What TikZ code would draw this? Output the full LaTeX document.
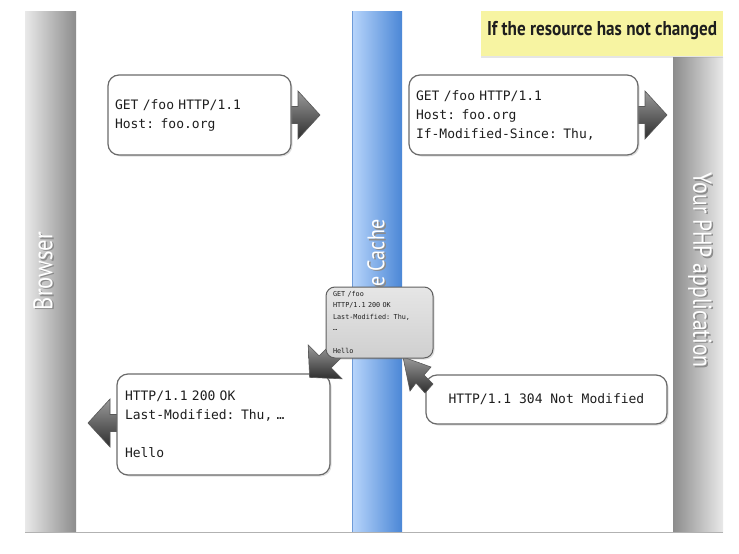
\documentclass[tikz,border=0pt]{standalone}
\usepackage{fontspec}
\usepackage{graphicx}
\usetikzlibrary{shadows}
\newfontfamily\monof[WordSpace={1,0,0}]{DejaVu Sans Mono}
\newfontfamily\labf{PT Sans}
\definecolor{brL}{HTML}{E9E9E9}
\definecolor{brD}{HTML}{8C8C8C}
\definecolor{cacheL}{HTML}{B8D5FB}
\definecolor{cacheD}{HTML}{4B87D6}
\definecolor{cacheE}{HTML}{6E9BD8}
\definecolor{noteY}{HTML}{F7F4A2}
\definecolor{boxE}{HTML}{6A6A6A}
\definecolor{txtC}{HTML}{1E1E1E}
\definecolor{arL}{HTML}{9A9A9A}
\definecolor{arD}{HTML}{2E2E2E}
\definecolor{sbTop}{HTML}{E6E6E6}
\definecolor{sbBot}{HTML}{CFCFCF}
\tikzset{
  mbox/.style={draw=boxE, fill=white, rounded corners=11, line width=1.2,
    font=\monof\fontsize{13}{19}\selectfont, align=left, text=txtC,
    inner ysep=0, drop shadow={opacity=0.25, shadow xshift=1.5pt, shadow yshift=-1.5pt}},
  smallbox/.style={draw=boxE!90!black, top color=sbTop, bottom color=sbBot, rounded corners=9, line width=1,
    font=\monof\fontsize{6.8}{11.5}\selectfont, align=left, text=txtC,
    inner xsep=7, inner ysep=0, minimum width=107, minimum height=71, text width=93,
    drop shadow={opacity=0.25, shadow xshift=1.5pt, shadow yshift=-1.5pt}},
  lanelab/.style={font=\labf, text=white, inner sep=0},
  lanesh/.style={font=\labf, text=black!45, inner sep=0},
  arrowshade/.style={top color=arL, bottom color=arD, draw=arD!80, line width=0.6, line join=miter},
  blockarrow/.pic={\shade[arrowshade]
    (0,0) -- (-22,24) -- (-22,8.5) -- (-36,8.5) -- (-36,-8.5) -- (-22,-8.5) -- (-22,-24) -- cycle;}
}
\begin{document}
\begin{tikzpicture}[x=1pt,y=-1pt]
\useasboundingbox (0,0) rectangle (739,554);
\fill[white] (0,0) rectangle (739,554);
% lanes
\shade[left color=brL, right color=brD] (25,11) rectangle (76,532);
\shade[left color=cacheL, right color=cacheD] (352,11) rectangle (402,532);
\draw[cacheE, line width=0.8] (352.4,11) -- (352.4,532);
\shade[left color=brD, right color=brL] (673,57) rectangle (723,532);
\draw[black!30, line width=1] (25,532.5) -- (723,532.5);
% note
\node[fill=noteY, minimum width=242, minimum height=45, anchor=north west, inner sep=0,
  drop shadow={opacity=0.2, shadow xshift=0pt, shadow yshift=-2pt}] (note) at (481,11) {};
\node[font=\labf\bfseries\fontsize{20}{20}\selectfont, text=txtC, inner sep=0] (notetxt) at (602,31)
  {\resizebox{230pt}{\height}{If the resource has not changed}};
% lane labels
\node[lanesh, rotate=90] (brsh) at (44.5,272.5) {\resizebox{78pt}{\height}{\fontsize{27}{27}\selectfont Browser}};
\node[lanelab, rotate=90] (brlab) at (43,271) {\resizebox{78pt}{\height}{\fontsize{27}{27}\selectfont Browser}};
\node[lanesh, rotate=90, anchor=west] (cash) at (377.5,288.5) {\resizebox{67pt}{\height}{\fontsize{24}{24}\selectfont e Cache}};
\node[lanelab, rotate=90, anchor=west] (calab) at (376,287) {\resizebox{67pt}{\height}{\fontsize{24}{24}\selectfont e Cache}};
\node[lanesh, rotate=-90] (appsh) at (701.5,271.5) {\resizebox{195pt}{\height}{\fontsize{26}{26}\selectfont Your PHP application}};
\node[lanelab, rotate=-90] (applab) at (700,270) {\resizebox{195pt}{\height}{\fontsize{26}{26}\selectfont Your PHP application}};
% request boxes
\path (291,115) ++(29,0) pic {blockarrow};
\path (638,115) ++(29,0) pic {blockarrow};
\node[mbox, minimum width=183, minimum height=80, text width=169, inner xsep=7] (b1) at (199.5,115)
  {GET /foo HTTP/1.1\\Host: foo.org};
\node[mbox, minimum width=229, minimum height=80, text width=215, inner xsep=7] (b2) at (523.5,115)
  {GET /foo HTTP/1.1\\Host: foo.org\\If-Modified-Since: Thu,};
% response boxes
\path (117,423) ++(-29,0) pic[rotate=180] {blockarrow};
\node[mbox, minimum width=213, minimum height=101, text width=197, inner xsep=8] (b3) at (223.5,424.5)
  {HTTP/1.1 200 OK\\Last-Modified: Thu, …\\[19pt]Hello};
\node[mbox, minimum width=241, minimum height=49, align=center] (b4) at (546.5,399.5)
  {HTTP/1.1 304 Not Modified};
\path (b3.north east) ++(-21,4) pic[rotate=225] {blockarrow};
% arrow from the 304 box up into the cache
\coordinate (t304) at (403,357);
\shade[arrowshade] (t304) -- (410,391) -- (416,383) -- (425,393) -- (433,384) -- (424,375) -- (431,367) -- cycle;
% cache copy
\node[smallbox] (sb) at (379.5,322.5)
  {GET /foo\\HTTP/1.1 200 OK\\Last-Modified: Thu,\\…\\[11.5pt]Hello};
\end{tikzpicture}
\end{document}
